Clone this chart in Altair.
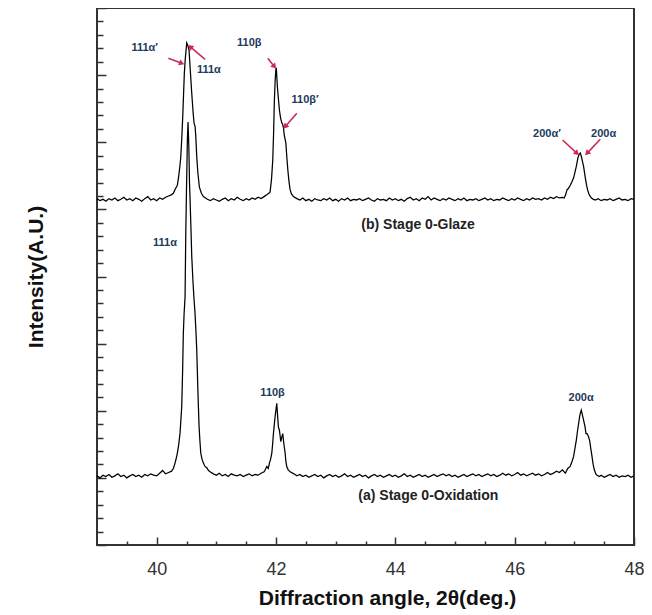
import math
import altair as alt
import pandas as pd

# ---------------- data ----------------
# (b) Stage 0-Glaze (upper trace)
b_x = [
    39.00, 39.05, 39.10, 39.15, 39.20, 39.25, 39.30, 39.35, 39.40, 39.45,
    39.50, 39.55, 39.60, 39.65, 39.70, 39.75, 39.80, 39.85, 39.90, 39.95,
    40.00, 40.05, 40.10, 40.15, 40.20, 40.25,
    40.28, 40.31, 40.347, 40.37, 40.39, 40.404, 40.42, 40.437, 40.45, 40.464,
    40.48, 40.504, 40.52, 40.543, 40.565, 40.588, 40.61, 40.627, 40.643, 40.655,
    40.672, 40.69, 40.716, 40.75, 40.783, 40.82,
    40.85, 40.90, 40.95, 41.00, 41.05, 41.10, 41.15, 41.20, 41.25, 41.30,
    41.35, 41.40, 41.45, 41.50, 41.55, 41.60, 41.65, 41.70, 41.75, 41.80,
    41.85,
    41.88, 41.901, 41.925, 41.946, 41.96, 41.973, 41.985, 41.997, 42.005, 42.024,
    42.04, 42.057, 42.077, 42.097, 42.11, 42.124, 42.14, 42.165, 42.18, 42.198,
    42.217, 42.237, 42.26, 42.292,
    42.35, 42.40, 42.45, 42.50, 42.55, 42.60, 42.65, 42.70, 42.75, 42.80,
    42.85, 42.90, 42.95, 43.00, 43.05, 43.10, 43.15, 43.20, 43.25, 43.30,
    43.35, 43.40, 43.45, 43.50, 43.55, 43.60, 43.65, 43.70, 43.75, 43.80,
    43.85, 43.90, 43.95, 44.00, 44.05, 44.10, 44.15, 44.20, 44.25, 44.30,
    44.35, 44.40, 44.45, 44.50, 44.55, 44.60, 44.65, 44.70, 44.75, 44.80,
    44.85, 44.90, 44.95, 45.00, 45.05, 45.10, 45.15, 45.20, 45.25, 45.30,
    45.35, 45.40, 45.45, 45.50, 45.55, 45.60, 45.65, 45.70, 45.75, 45.80,
    45.85, 45.90, 45.95, 46.00, 46.05, 46.10, 46.15, 46.20, 46.25, 46.30,
    46.35, 46.40, 46.45, 46.50, 46.55, 46.60, 46.65, 46.70, 46.75, 46.80,
    46.83, 46.855, 46.877, 46.90, 46.932, 46.96, 46.988, 47.01, 47.033, 47.061,
    47.08, 47.10, 47.12, 47.135, 47.155, 47.184, 47.205, 47.222, 47.245, 47.268,
    47.30, 47.323,
    47.35, 47.40, 47.45, 47.50, 47.55, 47.60, 47.65, 47.70, 47.75, 47.80,
    47.85, 47.90, 47.95, 48.00,
]
b_y = [
    5.16, 5.13, 5.15, 5.12, 5.16, 5.14, 5.17, 5.13, 5.15, 5.18,
    5.14, 5.16, 5.13, 5.17, 5.15, 5.12, 5.16, 5.19, 5.14, 5.16,
    5.13, 5.17, 5.15, 5.18, 5.20, 5.22,
    5.24, 5.30, 5.36, 5.50, 5.65, 5.78, 6.05, 6.38, 6.70, 7.03,
    7.25, 7.48, 7.45, 7.37, 7.05, 6.73, 6.45, 6.28, 6.24, 6.10,
    5.78, 5.55, 5.33, 5.24, 5.19, 5.17,
    5.15, 5.13, 5.16, 5.14, 5.12, 5.15, 5.17, 5.13, 5.16, 5.14,
    5.18, 5.15, 5.13, 5.16, 5.14, 5.17, 5.15, 5.18, 5.16, 5.19,
    5.22,
    5.24, 5.26, 5.45, 5.74, 6.15, 6.63, 6.90, 7.08, 7.11, 6.82,
    6.65, 6.48, 6.36, 6.29, 6.27, 6.22, 6.10, 5.99, 5.80, 5.59,
    5.42, 5.29, 5.23, 5.19,
    5.16, 5.14, 5.17, 5.13, 5.15, 5.12, 5.16, 5.14, 5.13, 5.16,
    5.14, 5.17, 5.13, 5.15, 5.12, 5.16, 5.14, 5.17, 5.13, 5.15,
    5.14, 5.16, 5.13, 5.15, 5.17, 5.14, 5.12, 5.16, 5.14, 5.15,
    5.13, 5.17, 5.14, 5.16, 5.13, 5.15, 5.12, 5.16, 5.18, 5.14,
    5.16, 5.13, 5.17, 5.15, 5.19, 5.14, 5.17, 5.15, 5.13, 5.16,
    5.14, 5.17, 5.15, 5.13, 5.16, 5.14, 5.17, 5.13, 5.15, 5.14,
    5.16, 5.13, 5.15, 5.17, 5.14, 5.16, 5.13, 5.15, 5.14, 5.17,
    5.15, 5.13, 5.16, 5.14, 5.17, 5.15, 5.13, 5.16, 5.14, 5.17,
    5.15, 5.16, 5.14, 5.17, 5.15, 5.18, 5.16, 5.19, 5.17, 5.18,
    5.17, 5.22, 5.29, 5.31, 5.36, 5.41, 5.47, 5.55, 5.64, 5.77,
    5.82, 5.84, 5.78, 5.72, 5.64, 5.47, 5.36, 5.29, 5.23, 5.19,
    5.16, 5.15,
    5.14, 5.16, 5.13, 5.15, 5.14, 5.16, 5.13, 5.15, 5.17, 5.14,
    5.15, 5.13, 5.16, 5.15,
]

# (a) Stage 0-Oxidation (lower trace)
a_x = [
    39.00, 39.05, 39.10, 39.15, 39.20, 39.25, 39.30, 39.35, 39.40, 39.45,
    39.50, 39.55, 39.60, 39.65, 39.70, 39.75, 39.80, 39.85, 39.90, 39.95,
    40.00, 40.05, 40.10, 40.15, 40.20, 40.25,
    40.28, 40.308, 40.33, 40.347, 40.37, 40.392, 40.405, 40.42, 40.435, 40.447,
    40.46, 40.476, 40.488, 40.50, 40.515, 40.526, 40.54, 40.55, 40.56, 40.575,
    40.588, 40.61, 40.627, 40.643, 40.66, 40.672, 40.689, 40.70, 40.711, 40.725,
    40.739, 40.76, 40.783, 40.81, 40.84, 40.87, 40.895,
    40.95, 41.00, 41.05, 41.10, 41.15, 41.20, 41.25, 41.30, 41.35, 41.40,
    41.45, 41.50, 41.55, 41.60, 41.65, 41.70, 41.75, 41.80,
    41.82, 41.846, 41.87, 41.89, 41.91, 41.93, 41.945, 41.957, 41.97, 41.985,
    42.00, 42.013, 42.025, 42.04, 42.057, 42.07, 42.08, 42.095, 42.113, 42.13,
    42.153, 42.165, 42.18, 42.205, 42.237,
    42.30,
    42.35, 42.40, 42.45, 42.50, 42.55, 42.60, 42.65, 42.70, 42.75, 42.80,
    42.85, 42.90, 42.95, 43.00, 43.05, 43.10, 43.15, 43.20, 43.25, 43.30,
    43.35, 43.40, 43.45, 43.50, 43.55, 43.60, 43.65, 43.70, 43.75, 43.80,
    43.85, 43.90, 43.95, 44.00, 44.05, 44.10, 44.15, 44.20, 44.25, 44.30,
    44.35, 44.40, 44.45, 44.50, 44.55, 44.60, 44.65, 44.70, 44.75, 44.80,
    44.85, 44.90, 44.95, 45.00, 45.05, 45.10, 45.15, 45.20, 45.25, 45.30,
    45.35, 45.40, 45.45, 45.50, 45.55, 45.60, 45.65, 45.70, 45.75, 45.80,
    45.85, 45.90, 45.95, 46.00, 46.05, 46.10, 46.15, 46.20, 46.25, 46.30,
    46.35, 46.40, 46.45, 46.50, 46.55, 46.60, 46.65, 46.70, 46.75, 46.80,
    46.85, 46.89, 46.93, 46.96, 46.988, 47.01, 47.033, 47.05, 47.072, 47.09,
    47.10, 47.117, 47.135, 47.155, 47.18, 47.195, 47.212, 47.235, 47.256, 47.275,
    47.296, 47.315, 47.335, 47.36, 47.38,
    47.42, 47.45, 47.50, 47.55, 47.60, 47.65, 47.70, 47.75, 47.80, 47.85,
    47.90, 47.95, 48.00,
]
a_y = [
    1.03, 1.00, 1.04, 1.02, 1.05, 1.01, 1.03, 1.06, 1.02, 1.04,
    1.00, 1.03, 1.05, 1.02, 1.04, 1.01, 1.05, 1.03, 1.06, 1.04,
    1.03, 1.07, 1.11, 1.06, 1.08, 1.10,
    1.14, 1.22, 1.30, 1.37, 1.50, 1.67, 1.85, 2.06, 2.60, 3.16,
    3.45, 3.70, 4.65, 5.30, 6.05, 6.30, 5.90, 5.40, 5.14, 4.70,
    4.30, 3.90, 3.65, 3.45, 3.15, 2.90, 2.36, 2.05, 1.76, 1.55,
    1.37, 1.28, 1.22, 1.17, 1.15, 1.11, 1.09,
    1.06, 1.04, 1.07, 1.03, 1.05, 1.02, 1.06, 1.04, 1.03, 1.05,
    1.02, 1.04, 1.06, 1.03, 1.05, 1.04, 1.07, 1.09,
    1.12, 1.17, 1.14, 1.22, 1.28, 1.37, 1.52, 1.66, 1.78, 1.91,
    2.02, 2.11, 1.95, 1.76, 1.71, 1.62, 1.54, 1.60, 1.66, 1.52,
    1.37, 1.25, 1.17, 1.12, 1.09,
    1.06,
    1.03, 1.05, 1.02, 1.04, 1.01, 1.03, 1.05, 1.02, 1.04, 1.00,
    1.03, 1.05, 1.02, 1.04, 1.01, 1.03, 1.06, 1.02, 1.04, 1.01,
    1.03, 1.05, 1.02, 1.04, 1.00, 1.03, 1.05, 1.02, 1.04, 1.01,
    1.03, 1.05, 1.02, 1.04, 1.01, 1.03, 1.06, 1.02, 1.04, 1.01,
    1.03, 1.05, 1.02, 1.04, 1.01, 1.03, 1.05, 1.02, 1.04, 1.06,
    1.03, 1.05, 1.02, 1.04, 1.01, 1.03, 1.05, 1.02, 1.04, 1.06,
    1.03, 1.05, 1.02, 1.04, 1.06, 1.03, 1.05, 1.02, 1.04, 1.07,
    1.04, 1.06, 1.03, 1.05, 1.08, 1.04, 1.06, 1.03, 1.05, 1.07,
    1.04, 1.06, 1.03, 1.05, 1.08, 1.05, 1.07, 1.10, 1.08, 1.12,
    1.07, 1.14, 1.17, 1.24, 1.32, 1.44, 1.56, 1.68, 1.81, 1.92,
    1.96, 2.01, 1.94, 1.86, 1.76, 1.66, 1.66, 1.62, 1.56, 1.44,
    1.32, 1.20, 1.12, 1.06, 1.04,
    1.02, 1.04, 1.01, 1.03, 1.05, 1.02, 1.04, 1.01, 1.03, 1.02,
    1.04, 1.01, 1.03,
]
assert len(b_x) == len(b_y) and len(a_x) == len(a_y)

# peak labels
ann_text = ["111α′", "111α", "110β", "110β′", "200α′", "200α", "111α", "110β", "200α"]
ann_x = [39.80, 40.876, 41.552, 42.488, 46.541, 47.491, 40.140, 41.943, 47.114]
ann_y = [7.40, 7.077, 7.483, 6.629, 6.123, 6.123, 4.504, 2.269, 2.185]

# arrows (tail -> head)
arrow_x1 = [40.196, 40.811, 41.863, 42.349, 46.803, 47.435]
arrow_y1 = [7.251, 7.236, 7.251, 6.431, 6.034, 6.044]
arrow_x2 = [40.420, 40.560, 41.973, 42.153, 47.045, 47.212]
arrow_y2 = [7.176, 7.423, 7.126, 6.232, 5.835, 5.835]

# trace captions
stage_text = ["(b) Stage 0-Glaze", "(a) Stage 0-Oxidation"]
stage_x = [43.43, 43.38]
stage_y = [4.767, 0.730]

# axis ticks
x_major = [40, 42, 44, 46, 48]
x_minor = [39.5, 40.5, 41, 41.5, 42.5, 43, 43.5, 44.5, 45, 45.5, 46.5, 47, 47.5]
y_major = [0, 1, 2, 3, 4, 5, 6, 7, 8]
y_minor = [0.2, 0.4, 0.6, 0.8, 1.2, 1.4, 1.6, 1.8, 2.2, 2.4, 2.6, 2.8,
           3.2, 3.4, 3.6, 3.8, 4.2, 4.4, 4.6, 4.8, 5.2, 5.4, 5.6, 5.8,
           6.2, 6.4, 6.6, 6.8, 7.2, 7.4, 7.6, 7.8]

# ---------------- chart ----------------
W, H = 537, 537
X_DOM, Y_DOM = [39, 48], [0, 8]
FONT = "Liberation Sans"
ARROW = "#cc2a55"

traces = pd.concat([
    pd.DataFrame({"x": b_x, "y": b_y, "s": "b"}),
    pd.DataFrame({"x": a_x, "y": a_y, "s": "a"}),
])

xs = alt.Scale(domain=X_DOM, nice=False, zero=False)
ys = alt.Scale(domain=Y_DOM, nice=False, zero=False)

minor = alt.Chart(traces).mark_line(opacity=0).encode(
    x=alt.X("x:Q", scale=xs, axis=alt.Axis(
        orient="bottom", values=x_minor, tickSize=4, offset=-4, labels=False,
        domain=False, grid=False, title="", tickColor="#333", tickWidth=1.5)),
    y=alt.Y("y:Q", scale=ys, axis=alt.Axis(
        orient="left", values=y_minor, tickSize=6, offset=-6, labels=False,
        domain=False, grid=False, title="", tickColor="#333", tickWidth=1.5)),
    detail="s:N",
)

lines = alt.Chart(traces).mark_line(color="black", strokeWidth=1.25).encode(
    x=alt.X("x:Q", scale=xs, axis=alt.Axis(
        orient="bottom", values=x_major, tickSize=8, offset=-8, domain=False, grid=False,
        labelFont=FONT, labelFontSize=18, labelColor="#333", labelPadding=15,
        labelFlush=False, tickColor="#333", tickWidth=1.5,
        title="Diffraction angle, 2θ(deg.)", titleFont=FONT, titleFontSize=21,
        titleFontWeight="bold", titleColor="#111", titlePadding=9, titleX=290)),
    y=alt.Y("y:Q", scale=ys, axis=alt.Axis(
        orient="left", values=y_major, tickSize=9, offset=-9, labels=False,
        domain=False, grid=False, tickColor="#333", tickWidth=1.5,
        title="Intensity(A.U.)", titleFont=FONT, titleFontSize=21,
        titleFontWeight="bold", titleColor="#111", titlePadding=50)),
    detail="s:N",
)

# arrows
ang = []
for x1, y1, x2, y2 in zip(arrow_x1, arrow_y1, arrow_x2, arrow_y2):
    dx = (x2 - x1) * W / (X_DOM[1] - X_DOM[0])
    dy = -(y2 - y1) * H / (Y_DOM[1] - Y_DOM[0])
    ang.append(math.degrees(math.atan2(dx, -dy)) % 360)
arrows = pd.DataFrame({"x1": arrow_x1, "y1": arrow_y1, "x2": arrow_x2, "y2": arrow_y2, "a": ang})

shafts = alt.Chart(arrows).mark_rule(color=ARROW, strokeWidth=1.6).encode(
    x=alt.X("x1:Q", scale=xs, axis=None), y=alt.Y("y1:Q", scale=ys, axis=None),
    x2="x2:Q", y2="y2:Q",
)
heads = alt.Chart(arrows).mark_point(shape="triangle-up", filled=True, color=ARROW,
                                     size=40, opacity=1).encode(
    x=alt.X("x2:Q", scale=xs, axis=None), y=alt.Y("y2:Q", scale=ys, axis=None),
    angle=alt.Angle("a:Q", scale=None),
)

labels = alt.Chart(pd.DataFrame({"t": ann_text, "x": ann_x, "y": ann_y})).mark_text(
    font=FONT, fontSize=11, fontWeight="bold", color="#1d3a5c",
).encode(
    x=alt.X("x:Q", scale=xs, axis=None), y=alt.Y("y:Q", scale=ys, axis=None), text="t:N",
)

stages = alt.Chart(pd.DataFrame({"t": stage_text, "x": stage_x, "y": stage_y})).mark_text(
    font=FONT, fontSize=14, fontWeight="bold", color="#222", align="left",
).encode(
    x=alt.X("x:Q", scale=xs, axis=None), y=alt.Y("y:Q", scale=ys, axis=None), text="t:N",
)

chart = alt.layer(minor, lines, shafts, heads, labels, stages).resolve_axis(
    x="independent", y="independent"
).properties(
    width=W, height=H,
    autosize=alt.AutoSizeParams(type="none"),
    padding={"left": 89, "top": 0, "right": 10, "bottom": 70},
).configure_view(stroke="#333", strokeWidth=2)

chart.save("out.html", embed_options={"renderer": "svg", "actions": False})
